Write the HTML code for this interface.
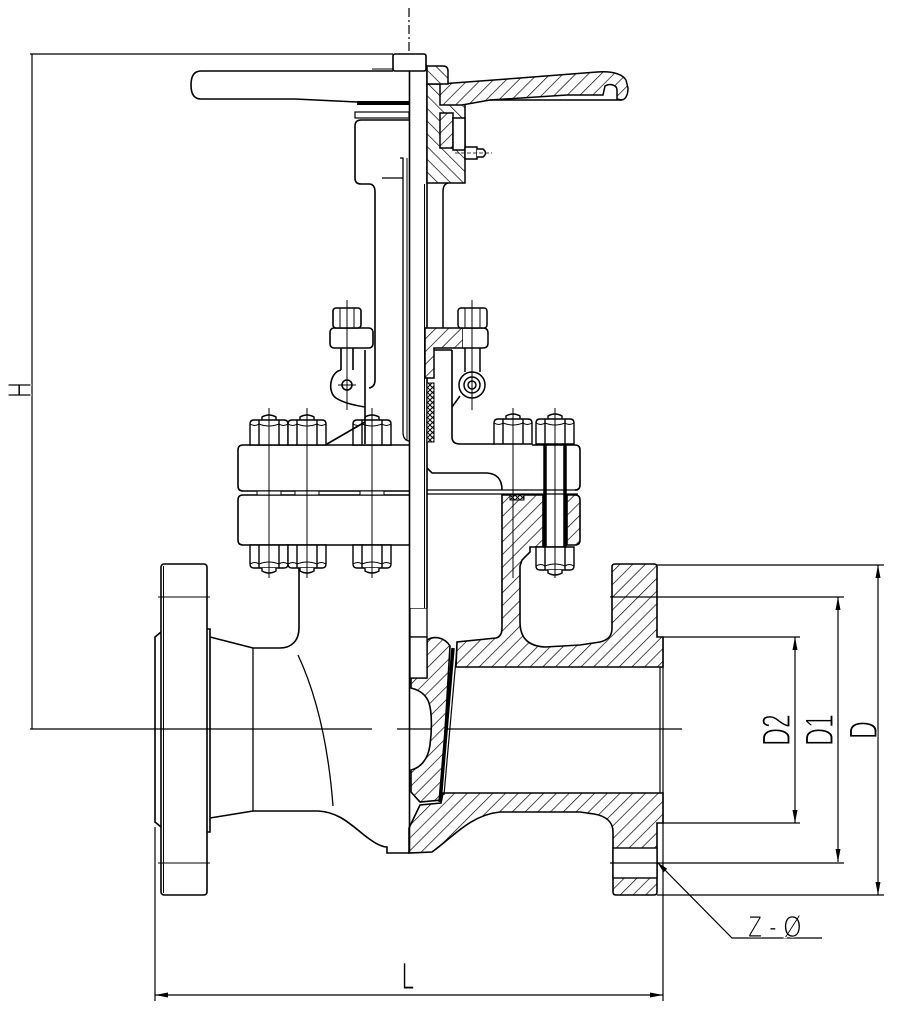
<!DOCTYPE html>
<html><head><meta charset="utf-8"><style>
html,body{margin:0;padding:0;background:#fff;width:910px;height:1028px;overflow:hidden}
svg{display:block}
text{font-family:"Liberation Sans",sans-serif;fill:#000;stroke:#fff;stroke-width:1.1}
</style></head><body>
<svg width="910" height="1028" viewBox="0 0 910 1028" xmlns="http://www.w3.org/2000/svg">
<defs>
<pattern id="h1" patternUnits="userSpaceOnUse" width="9" height="9" patternTransform="rotate(45)"><rect width="9" height="9" fill="#fff"/><line x1="0" y1="0" x2="0" y2="9" stroke="#000" stroke-width="1.4"/></pattern>
<pattern id="h2" patternUnits="userSpaceOnUse" width="9" height="9" patternTransform="rotate(-45)"><rect width="9" height="9" fill="#fff"/><line x1="0" y1="0" x2="0" y2="9" stroke="#000" stroke-width="1.4"/></pattern>
<pattern id="xh" patternUnits="userSpaceOnUse" width="5" height="5"><rect width="5" height="5" fill="#fff"/><path d="M0,0L5,5M5,0L0,5" stroke="#000" stroke-width="1"/></pattern>
<g id="nu" fill="#fff" stroke="#000" stroke-width="1.4">
<path d="M-7,0 L-7,-3 Q0,-7 7,-3 L7,0"/>
<path d="M-19,25 L-19,4 Q-19,0 -15,0 L15,0 Q19,0 19,4 L19,25 Z"/>
<path d="M-10,0 L-10,25 M10,0 L10,25" fill="none"/>
<path d="M-19,4 Q-14,7 -10,4 M-10,4 Q0,8 10,4 M10,4 Q14,7 19,4" fill="none" stroke-width="1"/>
</g>
<g id="nd" fill="#fff" stroke="#000" stroke-width="1.4">
<path d="M-19,0 L-19,19 Q-19,23 -15,23 L15,23 Q19,23 19,19 L19,0 Z"/>
<path d="M-10,0 L-10,23 M10,0 L10,23" fill="none"/>
<path d="M-19,19 Q-14,16 -10,19 M-10,19 Q0,15 10,19 M10,19 Q14,16 19,19" fill="none" stroke-width="1"/>
<path d="M-7,23 L-7,26 Q0,30 7,26 L7,23"/>
</g>
</defs>

<!-- dimension & centre lines -->
<g stroke="#000" stroke-width="1.2" fill="none">
<line x1="409" y1="8" x2="409" y2="53" stroke-dasharray="9,3,2,3"/>
<line x1="30" y1="54" x2="393" y2="54"/>
<line x1="32" y1="54" x2="32" y2="729"/>
<line x1="30" y1="729" x2="372" y2="729"/>
<line x1="397" y1="729" x2="682" y2="729"/>
<line x1="155" y1="827" x2="155" y2="1001"/>
<line x1="663" y1="637" x2="663" y2="1001"/>
<line x1="155" y1="995" x2="663" y2="995"/>
<line x1="657" y1="565" x2="884" y2="565"/>
<line x1="657" y1="895" x2="884" y2="895"/>
<line x1="878" y1="565" x2="878" y2="895"/>
<line x1="663" y1="637" x2="800" y2="637"/>
<line x1="663" y1="823" x2="800" y2="823"/>
<line x1="795" y1="637" x2="795" y2="823"/>
<line x1="838" y1="597" x2="838" y2="862"/>
<polyline points="657,862 732,938 822,938"/>
</g>
<g fill="#000">
<polygon points="155,995 168,992.5 168,997.5"/>
<polygon points="663,995 650,992.5 650,997.5"/>
<polygon points="878,565 875.5,578 880.5,578"/>
<polygon points="878,895 875.5,882 880.5,882"/>
<polygon points="838,597 835.5,610 840.5,610"/>
<polygon points="838,862 835.5,849 840.5,849"/>
<polygon points="795,637 792.5,650 797.5,650"/>
<polygon points="795,823 792.5,810 797.5,810"/>
<polygon points="657,862 663.6,872.3 667.2,868.7"/>
</g>

<!-- left body external view -->
<g stroke="#000" stroke-width="1.6" fill="none">
<rect x="161" y="564" width="46" height="331" rx="3"/>
<line x1="163.5" y1="566" x2="163.5" y2="893" stroke-width="1"/>
<path d="M161,632 L155,637 L155,822 L161,827"/>
<path d="M207,629 L210,629 L210,832 L207,832"/>
<path d="M210,637 L253,648 L280,648 C292,648 299,640 299,628 L299,566"/>
<path d="M210,818 L253,811 L318,811 C340,812 352,826 368,838 C376,844 382,847 387,847 L387,853 L409,853"/>
<line x1="253" y1="648" x2="253" y2="811" stroke-width="1.3"/>
<path d="M298,655 Q326,715 333,806" stroke-width="1.3"/>
</g>
<g stroke="#000" stroke-width="1.1">
<line x1="158" y1="597" x2="210" y2="597"/>
<line x1="158" y1="863" x2="210" y2="863"/>
</g>

<!-- left bonnet/body flanges -->
<g stroke="#000" stroke-width="1.6" fill="#fff">
<path d="M409,445 L243,445 Q238,445 238,450 L238,486 Q238,491 243,491 L409,491"/>
<path d="M409,495 L243,495 Q238,495 238,500 L238,540 Q238,545 243,545 L409,545"/>
<rect x="257" y="491" width="24" height="4" stroke-width="1"/>
<rect x="295" y="491" width="24" height="4" stroke-width="1"/>
<rect x="360" y="491" width="24" height="4" stroke-width="1"/>
</g>

<!-- right section: body -->
<g stroke="#000" stroke-width="1.6">
<path fill="url(#h1)" d="M502,495 L543,495 L543,547 L530,547 L530,552 L522,560 L520,566 L520,622 C520,638 528,646 545,647 L580,645 L600,642 C608,640 612,636 612,628 L612,567 Q612,564 615,564 L654,564 Q657,564 657,567 L657,637 L663,637 L663,667 L456,667 L457,642 L496,638 C500,637 502,634 502,628 Z"/>
<path fill="url(#h1)" d="M409,828 L420,805 L441,803 L443,793 L663,793 L663,823 L657,823 L657,892 Q657,895 654,895 L616,895 Q613,895 613,892 L613,832 C613,822 606,816 594,814 L580,812 L500,812 C470,815 452,838 432,852 L409,853 Z"/>
<path fill="url(#h1)" d="M427,640 C435,635 445,638 450,646 L441,800 L420,802 L411,792 L411,770 C420,768 428,760 430,745 C432,730 432,712 429,703 C426,694 419,690 411,688 L411,678 L427,678 Z"/>
<rect x="613" y="848" width="44" height="30" fill="#fff" stroke-width="1.4"/>
<rect x="410" y="608" width="17" height="29" fill="#fff" stroke-width="1.3"/>
<rect x="410" y="637" width="17" height="41" fill="#fff" stroke-width="1.3"/>
</g>
<g stroke="#000" fill="none">
<line x1="660" y1="667" x2="660" y2="793" stroke-width="1.2"/>
<line x1="453" y1="648" x2="440" y2="802" stroke-width="3.5"/>
<line x1="457" y1="648" x2="444" y2="795" stroke-width="1.2"/>
<line x1="610" y1="597" x2="844" y2="597" stroke-width="1.2"/>
<line x1="610" y1="863" x2="844" y2="863" stroke-width="1.2"/>
</g>

<!-- right bonnet section -->
<g stroke="#000" stroke-width="1.6" fill="none">
<path d="M452,350 L452,437 Q452,444 460,444 L494,444"/>
<path d="M427,468 L432,473 L487,473 Q502,474 502,490"/>
<line x1="427" y1="490" x2="578" y2="490" stroke-width="1.2"/>
<line x1="427" y1="494" x2="578" y2="494" stroke-width="1.2"/>
<path d="M532,445 L575,445 Q580,445 580,450 L580,485 Q580,490 575,490"/>
<path fill="url(#h1)" d="M567,495 L575,495 Q580,495 580,500 L580,540 Q580,545 575,545 L567,545 Z"/>
<line x1="543" y1="547" x2="567" y2="547"/>
</g>
<rect x="510" y="495" width="14" height="5" fill="url(#xh)" stroke="#000" stroke-width="1"/>
<g stroke="#000" stroke-width="3.5">
<line x1="545" y1="445" x2="545" y2="547"/>
<line x1="565" y1="445" x2="565" y2="547"/>
</g>

<!-- nuts -->
<use href="#nu" x="269" y="420"/>
<use href="#nu" x="307" y="420"/>
<use href="#nu" x="372" y="420"/>
<use href="#nu" x="513" y="419"/>
<use href="#nu" x="555" y="419"/>
<use href="#nd" x="269" y="545"/>
<use href="#nd" x="307" y="545"/>
<use href="#nd" x="372" y="545"/>
<use href="#nd" x="555" y="547"/>
<g stroke="#000" stroke-width="1">
<line x1="269" y1="408" x2="269" y2="578"/>
<line x1="307" y1="408" x2="307" y2="578"/>
<line x1="372" y1="408" x2="372" y2="578"/>
<line x1="513" y1="408" x2="513" y2="578"/>
<line x1="555" y1="408" x2="555" y2="578"/>
</g>

<!-- stem -->
<g stroke="#000" fill="#fff">
<rect x="410" y="71" width="17" height="537" stroke="none"/>
<line x1="409.5" y1="54" x2="409.5" y2="853" stroke-width="1.6"/>
<line x1="427" y1="71" x2="427" y2="608" stroke-width="1.6"/>
<line x1="424.5" y1="184" x2="424.5" y2="608" stroke-width="1"/>
<rect x="393" y="54" width="33" height="17" rx="2" stroke-width="1.6"/>
</g>

<!-- left yoke & gland -->
<g stroke="#000" stroke-width="1.6" fill="none">
<path d="M393,71 L201,71 Q191,71 191,85 Q191,99 201,99 L295,99 L357,102 L410,102"/>
<line x1="372" y1="69" x2="393" y2="69" stroke-width="1"/>
<rect x="355" y="112" width="54" height="6" stroke-width="1.2"/>
<path d="M409,120 L361,120 Q355,120 355,126 L355,178 Q355,184 361,184 L369,184 Q375,184 375,192 L375,380 Q375,387 369,388"/>
<path d="M382,178 L403,178 M400,158 L403,158 L403,432 Q403,440 409,441" stroke-width="1.3"/>
<line x1="407" y1="158" x2="407" y2="440" stroke-width="1"/>
<rect x="330" y="328" width="43" height="20" rx="4" fill="#fff"/>
<rect x="333" y="308" width="28" height="20" rx="3" fill="#fff"/>
<path d="M340,308 L340,328 M354,308 L354,328" stroke-width="1"/>
<path d="M341,348 L341,370 M353,348 L353,370"/>
<path d="M341,370 C330,372 327,392 336,398 C342,402 352,405 365,407"/>
<line x1="365" y1="350" x2="365" y2="444"/>
<line x1="327" y1="444" x2="365" y2="422"/>
<circle cx="347" cy="385" r="5"/>
<path d="M338,385 L356,385 M347,300 L347,410" stroke-width="1"/>
</g>
<rect x="357" y="101" width="53" height="4" fill="#000"/>

<!-- right yoke / handwheel section -->
<g stroke="#000" stroke-width="1.5">
<rect x="427" y="84" width="38" height="99" fill="url(#h2)"/>
<path fill="url(#h1)" d="M440,84 L520,78 L597,72 C612,71 622,74 626,80 L628,88 C628,96 625,100 621,100 L617,99 L617,90 C617,85 610,83 605,86 L603,95 L567,95 L490,100 L462,105 L440,105 Z"/>
<path fill="url(#h2)" d="M427,66 L443,66 Q448,66 448,71 L448,84 L427,84 Z"/>
<rect x="440" y="113" width="13" height="35" fill="url(#h1)"/>
<rect x="453" y="118" width="12" height="32" fill="#fff"/>
<line x1="490" y1="100" x2="622" y2="100" fill="none"/>
<rect x="465" y="147" width="12" height="12" fill="#fff"/>
<path d="M477,149 L483,149 Q488,153 483,157 L477,157" fill="#fff"/>
<path d="M448,183 Q443,184 443,192 L443,328" fill="none"/>
<path fill="url(#h1)" d="M425,328 L463,328 L463,348 L434,348 L434,378 L425,378 Z"/>
<path fill="#fff" d="M463,328 L483,328 Q488,328 488,333 L488,343 Q488,348 483,348 L463,348"/>
<rect x="458" y="308" width="29" height="20" rx="3" fill="#fff"/>
<path d="M465,308 L465,328 M480,308 L480,328" stroke-width="1" fill="none"/>
<path d="M465,348 L465,372 M480,348 L480,372" fill="none"/>
<circle cx="472" cy="385" r="13" fill="#fff"/>
<circle cx="472" cy="385" r="8" fill="none"/>
<circle cx="472" cy="385" r="4" fill="none"/>
<line x1="460" y1="396" x2="452" y2="407"/>
<path d="M434,350 L452,350" fill="none"/>
<rect x="427" y="383" width="7" height="59" fill="url(#xh)" stroke-width="1"/>
<line x1="472" y1="300" x2="472" y2="410" stroke-width="1"/>
</g>
<line x1="455" y1="153" x2="492" y2="153" stroke="#000" stroke-width="0.8" stroke-dasharray="4,2"/>

<!-- labels -->
<text transform="translate(31,390) rotate(-90) scale(0.65,1)" text-anchor="middle" font-size="33">H</text>
<text transform="translate(408,989) scale(0.6,1)" text-anchor="middle" font-size="38">L</text>
<text transform="translate(790,730) rotate(-90) scale(0.62,1)" text-anchor="middle" font-size="40">D2</text>
<text transform="translate(833,730) rotate(-90) scale(0.62,1)" text-anchor="middle" font-size="40">D1</text>
<text transform="translate(877,730) rotate(-90) scale(0.62,1)" text-anchor="middle" font-size="40">D</text>
<text transform="translate(748,937) scale(0.75,1)" font-size="31" letter-spacing="9">Z-Ø</text>
</svg>
</body></html>
